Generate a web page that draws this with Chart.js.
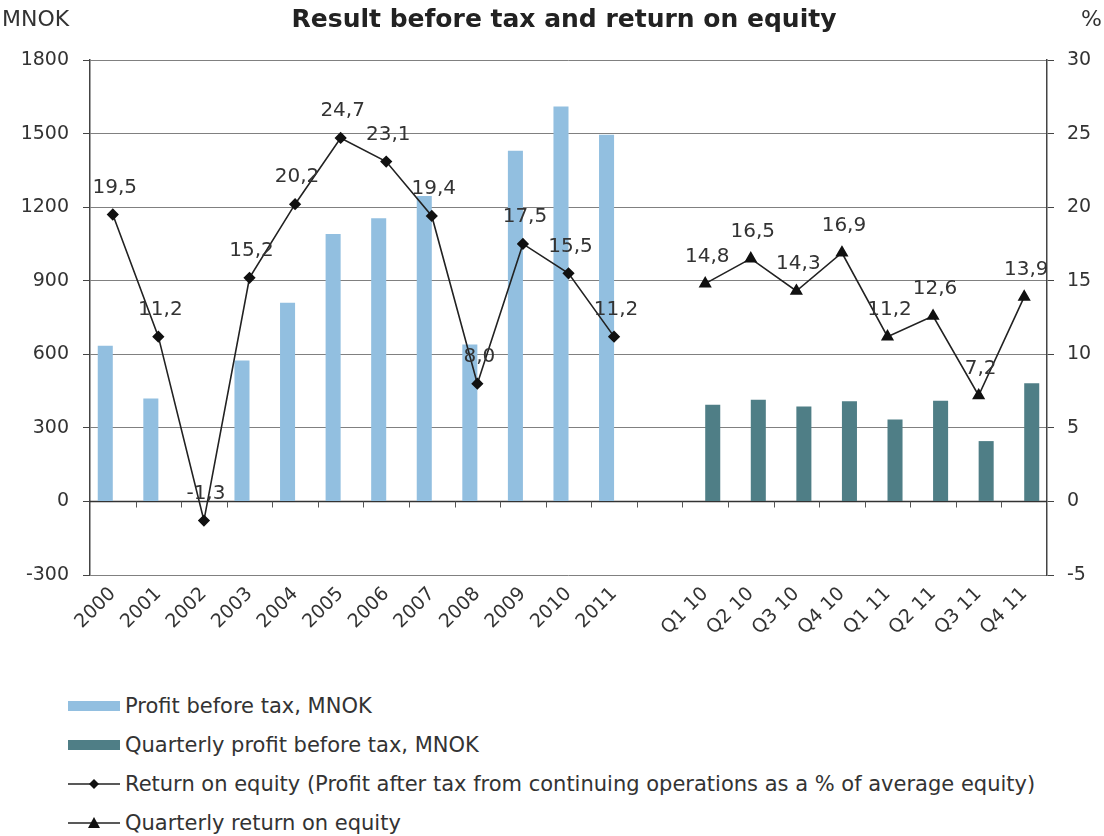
<!DOCTYPE html>
<html>
<head>
<meta charset="utf-8">
<script src="https://cdn.jsdelivr.net/npm/chart.js@4.4.1/dist/chart.umd.min.js"></script>
<style>
html,body{margin:0;padding:0;background:#fff;width:1104px;height:836px;overflow:hidden;font-family:'DejaVu Sans',Verdana,sans-serif;}
#wrap{position:relative;width:1104px;height:836px;}
#c{position:absolute;left:0;top:0;}
#legend{position:absolute;left:68px;top:686px;color:#333;font-size:21px;}
.item{display:flex;align-items:center;height:39px;white-space:nowrap;}
.sw{display:inline-block;width:52px;height:10px;margin-right:5px;}
svg{margin-right:5px;}
</style>
</head>
<body>
<div id="wrap">
<canvas id="c" width="1104" height="680"></canvas>
<div id="legend"></div>
</div>
<script>
// ---- data ----
const categories = ['2000','2001','2002','2003','2004','2005','2006','2007','2008','2009','2010','2011','',
                    'Q1 10','Q2 10','Q3 10','Q4 10','Q1 11','Q2 11','Q3 11','Q4 11'];
const annualProfit   = [635, 420, null, 575, 810, 1090, 1155, 1245, 640, 1430, 1610, 1495,
                        null, null, null, null, null, null, null, null, null];
const quarterlyProfit = [null, null, null, null, null, null, null, null, null, null, null, null,
                        null, 394, 415, 387, 409, 334, 411, 246, 482];
const annualROE = [19.5, 11.2, -1.3, 15.2, 20.2, 24.7, 23.1, 19.4, 8.0, 17.5, 15.5, 11.2,
                   null, null, null, null, null, null, null, null, null];
const quarterlyROE = [null, null, null, null, null, null, null, null, null, null, null, null,
                      null, 14.8, 16.5, 14.3, 16.9, 11.2, 12.6, 7.2, 13.9];
const leftTicks = {min: -300, max: 1800, step: 300};
const rightTicks = {min: -5, max: 30, step: 5};
const seriesNames = ['Profit before tax, MNOK', 'Quarterly profit before tax, MNOK',
  'Return on equity (Profit after tax from continuing operations as a % of average equity)',
  'Quarterly return on equity'];
const titleText = 'Result before tax and return on equity';

const FONT = "'DejaVu Sans', Verdana, sans-serif";
const lightBlue = '#92bfe0';
const darkTeal = '#4f7e86';
const textColor = '#333333';

const labelPlugin = {
  id: 'valueLabels',
  afterDatasetsDraw(chart) {
    const ctx = chart.ctx;
    ctx.save();
    ctx.font = '20px ' + FONT;
    ctx.fillStyle = textColor;
    ctx.textAlign = 'center';
    ctx.textBaseline = 'middle';
    chart.data.datasets.forEach((ds, i) => {
      if (ds.type !== 'line') return;
      const meta = chart.getDatasetMeta(i);
      meta.data.forEach((pt, j) => {
        const v = ds.data[j];
        if (v === null || v === undefined) return;
        ctx.fillText(v.toFixed(1).replace('.', ','), pt.x + 2, pt.y - 27);
      });
    });
    ctx.restore();
  }
};

const zeroAxisPlugin = {
  id: 'zeroAxis',
  beforeDatasetsDraw(chart) {
    const ctx = chart.ctx;
    const x = chart.scales.x, y = chart.scales.y;
    const y0 = Math.round(y.getPixelForValue(0)) + 0.5;
    const n = chart.data.labels.length;
    const w = (x.right - x.left) / n;
    ctx.save();
    ctx.strokeStyle = '#333';
    ctx.lineWidth = 1.3;
    ctx.beginPath();
    ctx.moveTo(x.left, y0);
    ctx.lineTo(x.right, y0);
    ctx.stroke();
    ctx.lineWidth = 1;
    ctx.strokeStyle = '#555';
    ctx.beginPath();
    for (let i = 1; i < n; i++) {
      const px = Math.round(x.getPixelForValue(i) - w / 2) + 0.5;
      ctx.moveTo(px, y0);
      ctx.lineTo(px, y0 + 6);
    }
    ctx.stroke();
    ctx.restore();
  }
};

const headerPlugin = {
  id: 'header',
  afterDraw(chart) {
    const ctx = chart.ctx;
    ctx.save();
    ctx.fillStyle = '#222';
    ctx.textBaseline = 'middle';
    ctx.textAlign = 'center';
    ctx.font = 'bold 25px ' + FONT;
    ctx.fillText(titleText, 564, 20);
    ctx.font = '22px ' + FONT;
    ctx.fillStyle = textColor;
    ctx.textAlign = 'left';
    ctx.fillText('MNOK', 2, 20);
    ctx.textAlign = 'right';
    ctx.fillText('%', 1102, 20);
    ctx.restore();
  }
};

const plain = (v) => String(v);

new Chart(document.getElementById('c'), {
  type: 'bar',
  data: {
    labels: categories,
    datasets: [
      {type: 'line', label: seriesNames[2], data: annualROE, yAxisID: 'y1', order: 1,
       borderColor: '#222', borderWidth: 1.6, pointStyle: 'rectRot', pointRadius: 5,
       pointBackgroundColor: '#111', pointBorderColor: '#111', tension: 0, spanGaps: false},
      {type: 'line', label: seriesNames[3], data: quarterlyROE, yAxisID: 'y1', order: 1,
       borderColor: '#222', borderWidth: 1.6, pointStyle: 'triangle', pointRadius: 6,
       pointBackgroundColor: '#111', pointBorderColor: '#111', tension: 0, spanGaps: false},
      {label: seriesNames[0], data: annualProfit, yAxisID: 'y', order: 2,
       backgroundColor: lightBlue, categoryPercentage: 0.66, barPercentage: 1.0},
      {label: seriesNames[1], data: quarterlyProfit, yAxisID: 'y', order: 2,
       backgroundColor: darkTeal, categoryPercentage: 0.66, barPercentage: 1.0}
    ]
  },
  options: {
    responsive: false,
    animation: false,
    devicePixelRatio: 1,
    layout: {padding: {top: 60, left: 0, right: 0, bottom: 0}},
    plugins: {legend: {display: false}, tooltip: {enabled: false}, title: {display: false}},
    scales: {
      x: {
        grid: {display: false, drawTicks: false},
        border: {display: false},
        ticks: {font: {family: FONT, size: 19}, color: textColor, minRotation: 45, maxRotation: 45, padding: 8, autoSkip: false},
        afterFit(s) { s.height = 105; }
      },
      y: {
        position: 'left',
        min: leftTicks.min, max: leftTicks.max,
        ticks: {stepSize: leftTicks.step, font: {family: FONT, size: 19}, color: textColor, padding: 14, callback: plain},
        grid: {color: '#808080', lineWidth: 1, tickLength: 7, tickColor: '#444'},
        border: {display: true, color: '#444', width: 1.5},
        afterFit(s) { s.width = 90; }
      },
      y1: {
        position: 'right',
        min: rightTicks.min, max: rightTicks.max,
        ticks: {stepSize: rightTicks.step, font: {family: FONT, size: 19}, color: textColor, padding: 13, callback: plain},
        grid: {drawOnChartArea: false, tickLength: 7, tickColor: '#444'},
        border: {display: true, color: '#444', width: 1.5},
        afterFit(s) { s.width = 57; }
      }
    }
  },
  plugins: [zeroAxisPlugin, labelPlugin, headerPlugin]
});

// ---- HTML legend ----
const legend = document.getElementById('legend');
function addItem(html, text) {
  const d = document.createElement('div');
  d.className = 'item';
  d.innerHTML = html + '<span>' + text + '</span>';
  legend.appendChild(d);
}
addItem('<span class="sw" style="background:' + lightBlue + '"></span>', seriesNames[0]);
addItem('<span class="sw" style="background:' + darkTeal + '"></span>', seriesNames[1]);
addItem('<svg width="52" height="12"><line x1="0" y1="6" x2="52" y2="6" stroke="#222" stroke-width="1.5"/><polygon points="26,1 31,6 26,11 21,6" fill="#111"/></svg>', seriesNames[2]);
addItem('<svg width="52" height="12"><line x1="0" y1="6" x2="52" y2="6" stroke="#222" stroke-width="1.5"/><polygon points="26,0 32,11 20,11" fill="#111"/></svg>', seriesNames[3]);
</script>
</body>
</html>
